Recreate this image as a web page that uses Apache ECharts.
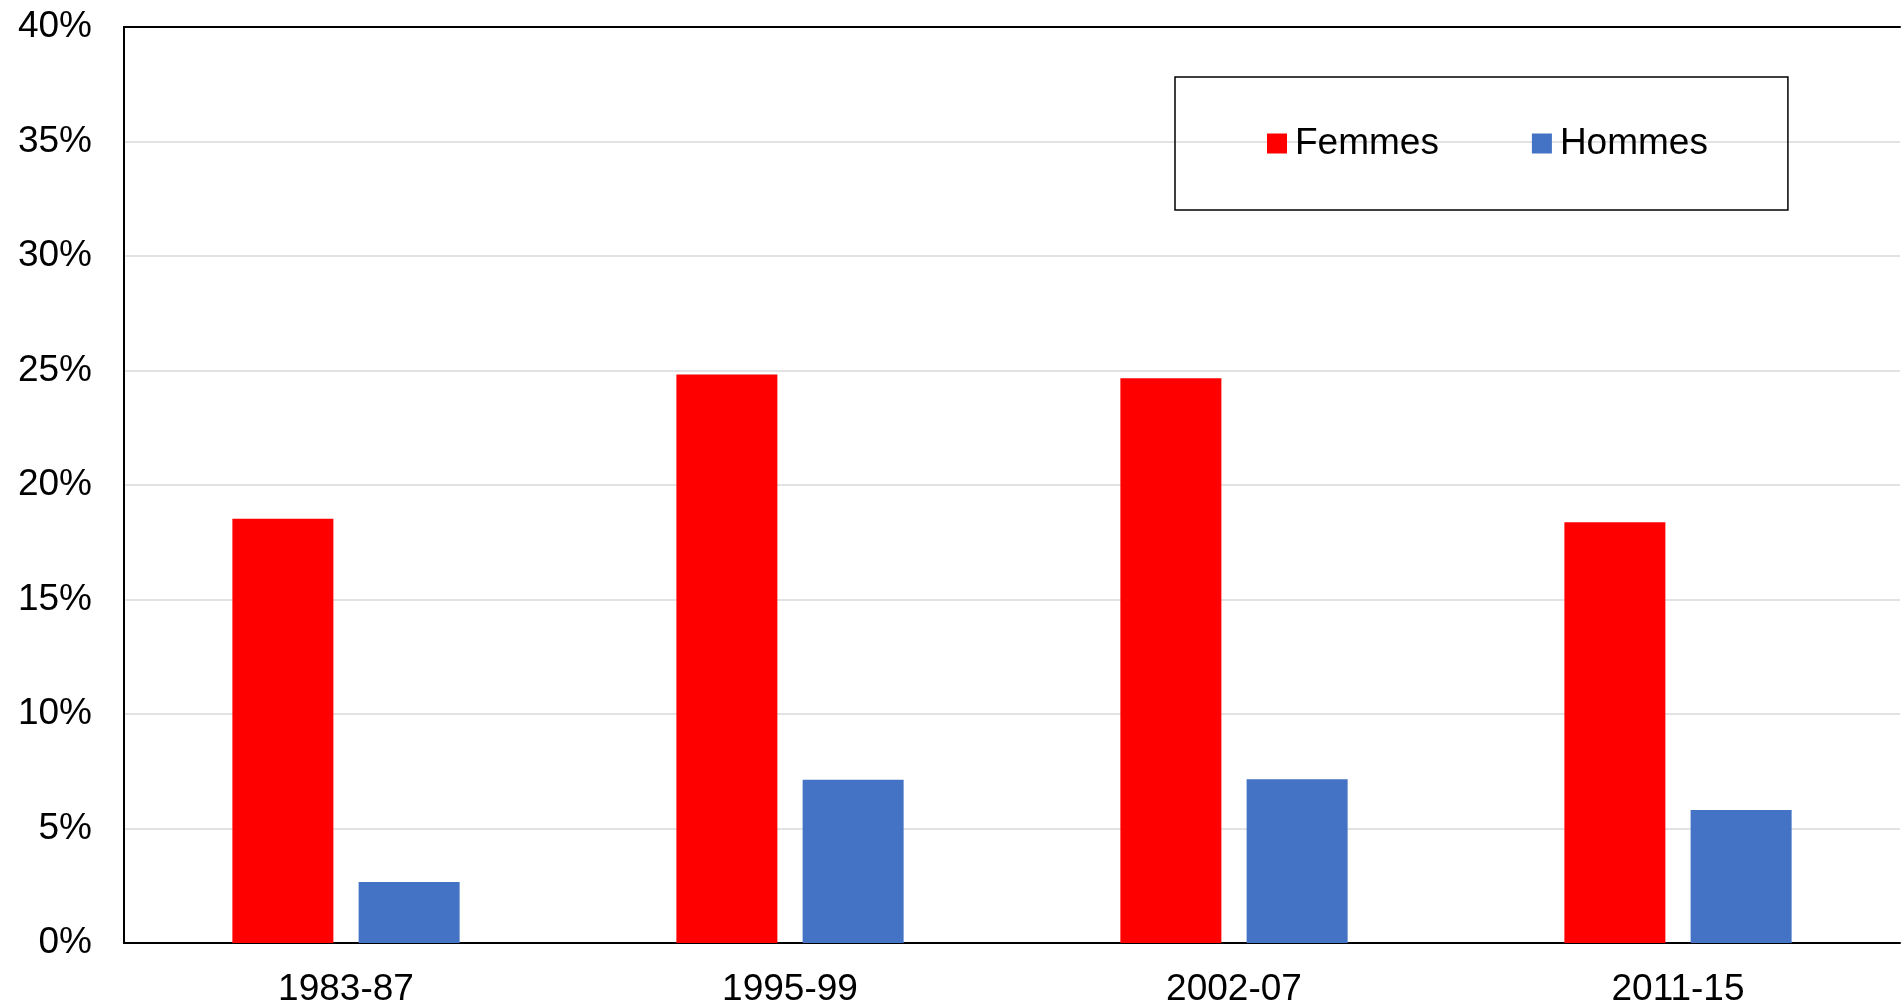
<!DOCTYPE html>
<html>
<head>
<meta charset="utf-8">
<script src="https://cdn.jsdelivr.net/npm/echarts@6/dist/echarts.min.js"></script>
<style>
  html, body { margin: 0; padding: 0; background: #fff; }
  #chart { width: 1901px; height: 1005px; }
</style>
</head>
<body>
<div id="chart"></div>
<script>
var periods = ['1983-87', '1995-99', '2002-07', '2011-15']
var femmes = [18.53, 24.83, 24.66, 18.37]
var hommes = [2.66, 7.13, 7.15, 5.81]

var chart = echarts.init(document.getElementById('chart'))
chart.setOption({
  animation: false,
  textStyle: { fontFamily: 'Liberation Sans, Arial, sans-serif' },
  grid: { left: 124, right: 1, top: 27, bottom: 62, containLabel: false, outerBoundsMode: 'none' },
  legend: {
    data: ['Femmes', 'Hommes'],
    left: 1175,
    top: 77,
    padding: [48, 80, 48, 92],
    borderColor: '#000',
    borderWidth: 1.5,
    itemWidth: 20,
    itemHeight: 20,
    itemGap: 93,
    icon: 'rect',
    textStyle: { fontSize: 37, color: '#000', padding: [4, 0, 0, 3] }
  },
  xAxis: [{
    type: 'category',
    data: periods,
    axisLine: { lineStyle: { color: '#000', width: 2 } },
    axisTick: { show: false },
    axisLabel: { fontSize: 37, color: '#000', margin: 28 }
  }, {
    type: 'category',
    position: 'top',
    data: periods,
    axisLine: { lineStyle: { color: '#000', width: 2 } },
    axisTick: { show: false },
    axisLabel: { show: false }
  }],
  yAxis: {
    type: 'value',
    min: 0,
    max: 40,
    interval: 5,
    axisLine: { show: true, lineStyle: { color: '#000', width: 2 } },
    axisTick: { show: false },
    axisLabel: { fontSize: 37, color: '#000', margin: 32, formatter: '{value}%' },
    splitLine: { lineStyle: { color: '#d9d9d9', width: 1.5 } }
  },
  series: [{
    name: 'Femmes',
    type: 'bar',
    data: femmes,
    barWidth: 101,
    barGap: '25%',
    itemStyle: { color: '#ff0000' }
  }, {
    name: 'Hommes',
    type: 'bar',
    data: hommes,
    barWidth: 101,
    barGap: '25%',
    itemStyle: { color: '#4472c4' }
  }]
})
</script>
</body>
</html>
